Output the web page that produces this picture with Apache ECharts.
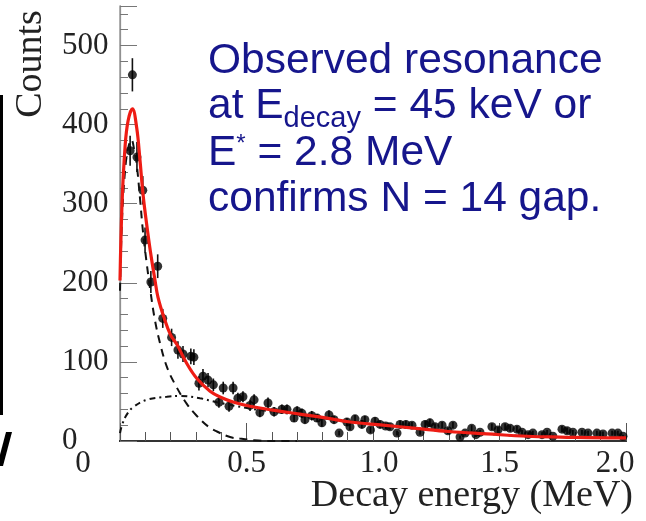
<!DOCTYPE html>
<html>
<head>
<meta charset="utf-8">
<script src="https://cdn.jsdelivr.net/npm/echarts@6/dist/echarts.min.js"></script>
<style>
html,body{margin:0;padding:0;background:#fff;}
#chart{width:646px;height:521px;}
</style>
</head>
<body>
<div id="chart"></div>
<script>
// ---------- data ----------
const xTickLabels = ['0', '0.5', '1.0', '1.5', '2.0'];
const yTickLabels = ['0', '100', '200', '300', '400', '500'];

// measured points: decay energy (MeV), counts, error
const dataE = [0.040,0.049,0.067,0.090,0.099,0.122,0.149,0.169,0.204,0.229,0.249,0.280,0.292,0.312,0.328,0.348,0.369,0.391,0.408,0.431,0.447,0.466,0.486,0.514,0.530,0.553,0.585,0.609,0.640,0.660,0.688,0.700,0.719,0.731,0.758,0.779,0.798,0.826,0.846,0.866,0.897,0.909,0.929,0.956,0.968,0.990,1.008,1.028,1.050,1.067,1.095,1.107,1.130,1.154,1.186,1.206,1.225,1.245,1.273,1.296,1.316,1.344,1.364,1.390,1.407,1.423,1.470,1.494,1.522,1.542,1.569,1.589,1.613,1.632,1.668,1.688,1.711,1.747,1.767,1.790,1.826,1.850,1.885,1.909,1.945,1.968,1.988];
const dataCounts = [367,463,359,317,254,201,221,155,131,115,110,107,106,73,82,77,71,49,67,44,67,54,56,45,52,36,48,37,40,40,29,38,35,27,32,29,23,33,27,10,24,18,28,21,27,14,25,21,19,18,10,21,21,20,11,21,23,18,20,13,20,5,10,16,8,11,18,14,18,16,15,11,8,10,8,11,6,15,13,11,11,10,10,9,10,10,6];
const dataErr = [19,21,19,18,16,14,15,12,11,11,10,10,10,9,9,9,8,7,8,7,8,7,7,7,7,6,7,6,6,6,5,6,6,5,6,5,5,6,5,3,5,4,5,5,5,4,5,5,4,4,3,5,5,4,3,5,5,4,4,4,4,2,3,4,3,3,4,4,4,4,4,3,3,3,3,3,2,4,4,3,3,3,3,3,3,3,2];

// total fit (red)
const fitE = [0.000,0.008,0.020,0.032,0.049,0.066,0.079,0.091,0.105,0.120,0.138,0.150,0.175,0.200,0.225,0.264,0.304,0.356,0.400,0.450,0.514,0.605,0.711,0.818,0.909,1.040,1.170,1.300,1.450,1.610,1.740,1.970,2.000];
const fitCounts = [203,300,372,405,420,396,355,312,275,240,204,182,155,134,122,98,79,63,55,49,44,39,34,29,24,20,16,12,9,6,5,4,4];

// resonance component (dashed)
const resE = [0.000,0.008,0.020,0.032,0.045,0.058,0.066,0.079,0.091,0.105,0.120,0.138,0.158,0.185,0.217,0.264,0.303,0.350,0.383,0.435,0.474,0.530,0.600,0.700];
const resCounts = [190,280,342,370,381,365,350,307,264,226,190,153,124,94,72,47,32,18,12,5,3,1,0,0];

// background component (dash-dot)
const bgE = [0.000,0.008,0.026,0.053,0.105,0.185,0.237,0.316,0.383,0.447,0.514,0.605,0.711,0.818,0.909,1.040,1.170,1.300,1.450,1.610,1.740,1.970,2.000];
const bgCounts = [10,20,33,43,52,56,57,54,49,45,41,37,33,28,24,20,16,12,9,6,5,4,4];

// ---------- chart ----------
const chart = echarts.init(document.getElementById('chart'), null, {renderer: 'canvas'});
const serif = '"Liberation Serif", "Times New Roman", serif';
const sans = '"Liberation Sans", Arial, sans-serif';
const navy = '#16168c';
const tickFont = 31;

const mctx = document.createElement('canvas').getContext('2d');
function tw(t, f) { mctx.font = f; return mctx.measureText(t).width; }

const F = '42.5px ' + sans;
const FS = '29px ' + sans;
const FA = '24px ' + sans;
const x0 = 208;
const wAtE = tw('at E', F);
const wDecay = tw('decay', FS);
const wE = tw('E', F);
const wStar = tw('*', FA);

const pairs = (xs, ys) => xs.map((x, i) => [x, ys[i]]);

const option = {
  animation: false,
  backgroundColor: '#fff',
  grid: {left: 120, right: 20, top: 6, bottom: 80, containLabel: false},
  xAxis: [{
    type: 'value', min: 0, max: 2, interval: 0.5, position: 'bottom',
    axisLine: {show: true, lineStyle: {color: '#000', width: 2}},
    axisTick: {show: true, inside: true, length: 18, lineStyle: {color: '#555', width: 1}},
    minorTick: {show: true, splitNumber: 5, length: 9, lineStyle: {color: '#555', width: 1}},
    splitLine: {show: false},
    axisLabel: {
      margin: 7, fontFamily: serif, fontSize: tickFont, color: '#222',
      formatter: function (v, i) {
        const t = xTickLabels[i] !== undefined ? xTickLabels[i] : '';
        if (i === 0) return '{z|' + t + '}';
        if (i === 2) return '{a|' + t + '}';
        if (i === 4) return '{r|' + t + '}';
        return t;
      },
      rich: {
        z: {fontFamily: serif, fontSize: tickFont, color: '#222', padding: [0, 74, 0, 0]},
        a: {fontFamily: serif, fontSize: tickFont, color: '#222', padding: [0, 0, 0, 12]},
        r: {fontFamily: serif, fontSize: tickFont, color: '#222', padding: [0, 22, 0, 0]}
      }
    }
  }, {
    type: 'value', min: 0, max: 2, position: 'top',
    axisLine: {show: true, lineStyle: {color: '#333', width: 2}},
    axisTick: {show: false}, axisLabel: {show: false}, splitLine: {show: false}
  }],
  yAxis: [{
    type: 'value', min: 0, max: 550, interval: 100, position: 'left',
    axisLine: {show: true, lineStyle: {color: '#777', width: 1.2}},
    axisTick: {show: true, inside: true, length: 17, lineStyle: {color: '#777', width: 1}},
    minorTick: {show: true, splitNumber: 5, length: 8, lineStyle: {color: '#777', width: 1}},
    splitLine: {show: false},
    axisLabel: {
      margin: 58, align: 'left', fontFamily: serif, fontSize: tickFont, color: '#222',
      formatter: function (v, i) { return yTickLabels[i] !== undefined ? yTickLabels[i] : ''; }
    }
  }, {
    type: 'value', min: 0, max: 550, position: 'right',
    axisLine: {show: true, lineStyle: {color: '#999', width: 1.5}},
    axisTick: {show: false}, axisLabel: {show: false}, splitLine: {show: false}
  }],
  series: [
    {
      type: 'custom', xAxisIndex: 0, yAxisIndex: 0, z: 3,
      data: dataE.map((x, i) => [x, dataCounts[i], dataErr[i]]),
      renderItem: function (params, api) {
        const x = api.value(0), y = api.value(1), e = api.value(2);
        const p1 = api.coord([x, y - e]);
        const p2 = api.coord([x, y + e]);
        return {type: 'line', shape: {x1: p1[0], y1: p1[1], x2: p2[0], y2: p2[1]},
                style: {stroke: '#111', lineWidth: 1.6}};
      }
    },
    {
      type: 'scatter', xAxisIndex: 0, yAxisIndex: 0, z: 3,
      symbol: 'circle', symbolSize: 9,
      itemStyle: {color: '#000'},
      data: pairs(dataE, dataCounts)
    },
    {
      type: 'line', xAxisIndex: 0, yAxisIndex: 0, z: 4,
      data: pairs(bgE, bgCounts), showSymbol: false, smooth: 0.4,
      lineStyle: {color: '#111', width: 2, type: [6, 4, 2, 4]}
    },
    {
      type: 'line', xAxisIndex: 0, yAxisIndex: 0, z: 4,
      data: pairs(resE, resCounts), showSymbol: false, smooth: 0.4,
      lineStyle: {color: '#111', width: 2, type: [8, 6]}
    },
    {
      type: 'line', xAxisIndex: 0, yAxisIndex: 0, z: 5,
      data: pairs(fitE, fitCounts), showSymbol: false, smooth: 0.4,
      lineStyle: {color: '#ee1c14', width: 3.2}
    }
  ],
  graphic: [
    // fragments at the left edge of the slide
    {type: 'rect', shape: {x: 0, y: 95, width: 3, height: 320}, style: {fill: '#000'}},
    {type: 'polygon', shape: {points: [[6, 432], [12, 432], [3, 466], [-3, 466]]}, style: {fill: '#000'}},
    // axis titles
    {type: 'text', x: 31, y: 64, rotation: Math.PI / 2,
     style: {text: 'Counts', font: '38px ' + serif, fill: '#222', align: 'center', verticalAlign: 'middle'}},
    {type: 'text', x: 633, y: 496.5,
     style: {text: 'Decay energy (MeV)', font: '38px ' + serif, fill: '#222', align: 'right', verticalAlign: 'middle'}},
    // annotation
    {type: 'text', x: x0, y: 61.7, style: {text: 'Observed resonance', font: F, fill: navy, align: 'left', verticalAlign: 'middle'}},
    {type: 'text', x: x0, y: 106.7, style: {text: 'at E', font: F, fill: navy, align: 'left', verticalAlign: 'middle'}},
    {type: 'text', x: x0 + wAtE, y: 119, style: {text: 'decay', font: FS, fill: navy, align: 'left', verticalAlign: 'middle'}},
    {type: 'text', x: x0 + wAtE + wDecay, y: 106.7, style: {text: ' = 45 keV or', font: F, fill: navy, align: 'left', verticalAlign: 'middle'}},
    {type: 'text', x: x0, y: 153.7, style: {text: 'E', font: F, fill: navy, align: 'left', verticalAlign: 'middle'}},
    {type: 'text', x: x0 + wE, y: 144, style: {text: '*', font: FA, fill: navy, align: 'left', verticalAlign: 'middle'}},
    {type: 'text', x: x0 + wE + wStar, y: 153.7, style: {text: ' = 2.8 MeV', font: F, fill: navy, align: 'left', verticalAlign: 'middle'}},
    {type: 'text', x: x0, y: 199.7, style: {text: 'confirms N = 14 gap.', font: F, fill: navy, align: 'left', verticalAlign: 'middle'}}
  ]
};
chart.setOption(option);
</script>
</body>
</html>
